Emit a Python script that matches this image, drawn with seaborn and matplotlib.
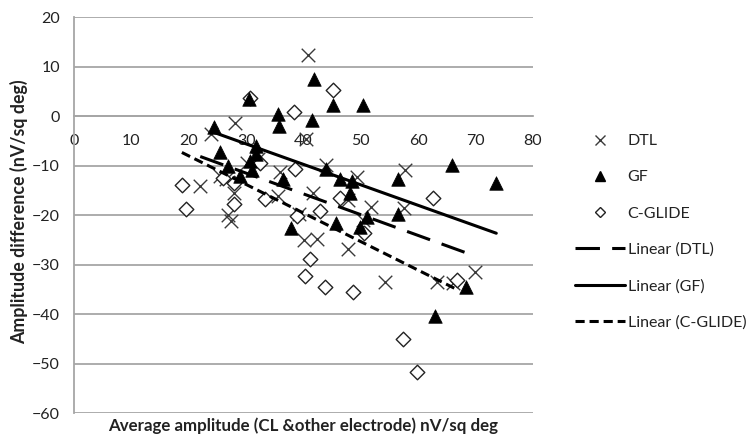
import numpy as np
import pandas as pd
import matplotlib
matplotlib.use("Agg")
import matplotlib.pyplot as plt
from matplotlib.lines import Line2D
import seaborn as sns

# ---- data ----
dtl_x = [40.8, 28.0, 23.8, 40.5, 30.1, 32.1, 35.9, 25.4, 26.5, 22.0, 27.8, 35.6, 26.8, 27.3,
         39.2, 40.0, 42.3, 41.7, 44.0, 49.4, 47.8, 47.7, 51.7, 50.4, 54.2, 57.5, 57.7, 63.2,
         66.1, 69.9]
dtl_y = [12.5, -1.3, -3.5, -4.5, -9.4, -8.7, -11.3, -12.0, -12.6, -14.1, -15.4, -16.2, -20.0, -21.2,
         -19.8, -25.0, -24.8, -15.4, -9.8, -12.2, -17.0, -26.8, -18.4, -21.0, -33.6, -18.5, -10.8, -33.6,
         -33.8, -31.4]

gf_x = [24.4, 25.4, 26.9, 28.9, 30.7, 31.0, 31.8, 31.8, 30.5, 35.6, 35.8, 36.5, 37.9, 41.8,
        41.5, 45.1, 50.4, 44.0, 46.3, 48.4, 48.1, 45.6, 51.0, 49.8, 56.5, 56.5, 65.8, 73.6,
        68.4, 62.9]
gf_y = [-2.2, -7.3, -10.0, -12.1, -9.0, -10.8, -6.0, -7.7, 3.5, 0.4, -2.0, -12.7, -22.6, 7.6,
        -0.8, 2.2, 2.2, -10.6, -12.6, -13.1, -15.5, -21.5, -20.3, -22.4, -12.7, -19.8, -9.9, -13.4,
        -34.6, -40.3]

cg_x = [18.8, 19.6, 26.0, 27.8, 27.8, 30.7, 32.4, 33.3, 38.4, 38.5, 38.8, 42.9, 45.2, 46.3,
        41.2, 40.2, 43.7, 48.7, 50.6, 62.5, 66.7, 57.4, 59.7]
cg_y = [-13.8, -18.7, -12.5, -13.4, -17.7, 3.8, -9.4, -16.7, 0.9, -10.7, -20.2, -19.1, 5.4, -16.6,
        -28.8, -32.2, -34.6, -35.6, -23.5, -16.5, -33.0, -45.0, -51.8]

x_ticks = list(range(0, 81, 10))
y_ticks = list(range(-60, 21, 10))
series_names = ["DTL", "GF", "C-GLIDE"]
x_label = "Average amplitude (CL &other electrode) nV/sq deg"
y_label = "Amplitude difference (nV/sq deg)"

# ---- style ----
sns.set_style("white")
plt.rcParams["font.family"] = ["Lato", "DejaVu Sans"]

fig = plt.figure(figsize=(7.47, 4.36), dpi=100)
ax = fig.add_axes([74 / 747, 1 - 413 / 436, (533 - 74) / 747, (413 - 17.5) / 436])

grid_c = "#a6a6a6"
ax.set_xlim(0, 80)
ax.set_ylim(-60, 20)
ax.set_yticks(y_ticks)
ax.set_xticks(x_ticks)
ax.yaxis.grid(True, color=grid_c, lw=1.3, zorder=0)
ax.xaxis.grid(False)
ax.set_axisbelow(True)

for s in ["top", "right", "bottom"]:
    ax.spines[s].set_visible(False)
ax.spines["left"].set_color(grid_c)
ax.spines["left"].set_linewidth(1.3)
ax.spines["bottom"].set_visible(True)
ax.spines["bottom"].set_position(("data", 0))
ax.spines["bottom"].set_color(grid_c)
ax.spines["bottom"].set_linewidth(1.3)

ax.tick_params(axis="x", direction="inout", length=6, width=1.1, color=grid_c,
               labelsize=11.5, labelcolor="#222222", pad=10)
ax.tick_params(axis="y", direction="out", length=4, width=1.1, color=grid_c,
               labelsize=11.5, labelcolor="#222222", pad=6)

# ---- scatter ----
sns.scatterplot(x=dtl_x, y=dtl_y, ax=ax, marker="x", s=95, color="#3a3a3a",
                linewidth=1.0, zorder=3)
sns.scatterplot(x=gf_x, y=gf_y, ax=ax, marker="^", s=95, color="black",
                edgecolor="black", linewidth=0.5, zorder=4)
sns.scatterplot(x=cg_x, y=cg_y, ax=ax, marker="D", s=55, color="white",
                edgecolor="#222222", linewidth=1.0, zorder=3)

# ---- linear trend lines ----
lw = 2.2
dtl_dash = (8, 4)
cg_dash = (3, 1.6)
sns.regplot(x=dtl_x, y=dtl_y, ax=ax, scatter=False, ci=None, truncate=True, color="black",
            line_kws=dict(lw=lw, dashes=dtl_dash, zorder=5))
sns.regplot(x=gf_x, y=gf_y, ax=ax, scatter=False, ci=None, truncate=True, color="black",
            line_kws=dict(lw=lw, zorder=5))
sns.regplot(x=cg_x, y=cg_y, ax=ax, scatter=False, ci=None, truncate=True, color="black",
            line_kws=dict(lw=lw, dashes=cg_dash, zorder=5))

ax.set_xlim(0, 80)
ax.set_ylim(-60, 20)

# ---- labels ----
ax.set_xlabel(x_label, fontsize=12.2, fontweight="bold", color="#222222")
ax.xaxis.set_label_coords(0.5, -0.012)
ax.set_ylabel(y_label, fontsize=12.8, fontweight="bold", color="#222222")
ax.yaxis.set_label_coords(-0.100, 0.51)

# ---- legend ----
handles = [
    Line2D([], [], ls="none", marker="x", ms=7, mew=1.0, color="#3a3a3a"),
    Line2D([], [], ls="none", marker="^", ms=7, color="black"),
    Line2D([], [], ls="none", marker="D", ms=5.5, mfc="white", mec="#222222", mew=1.0),
    Line2D([], [], color="black", lw=lw, dashes=dtl_dash),
    Line2D([], [], color="black", lw=lw),
    Line2D([], [], color="black", lw=lw, dashes=cg_dash),
]
labels = series_names + [f"Linear ({n})" for n in series_names]
leg = fig.legend(handles, labels, loc="upper left", bbox_to_anchor=(575 / 747, 1 - 134 / 436),
                 frameon=False, fontsize=11.5, handlelength=3.1, handletextpad=0.2,
                 labelspacing=1.38, borderaxespad=0, borderpad=0)
for t in leg.get_texts():
    t.set_color("#222222")

fig.savefig("out.png", dpi=100)
